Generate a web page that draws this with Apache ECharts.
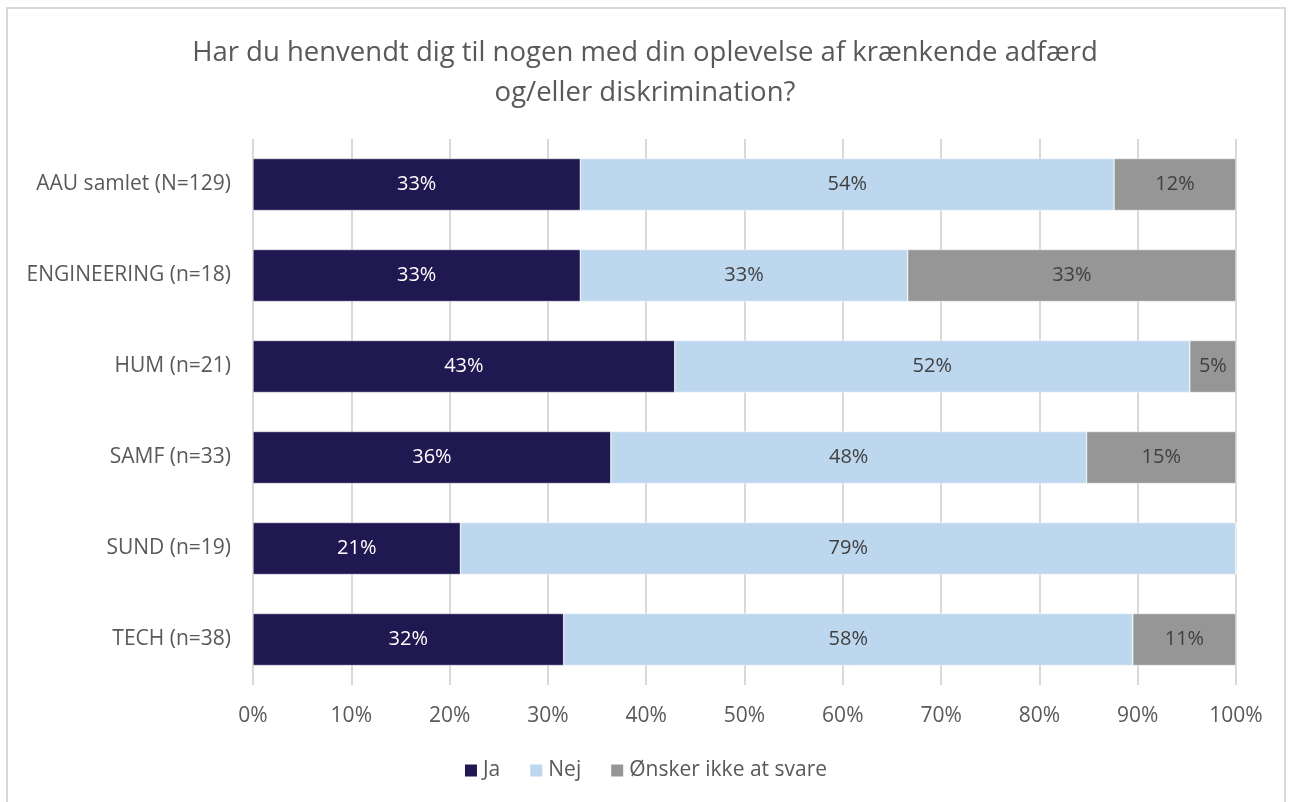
<!DOCTYPE html>
<html>
<head>
<meta charset="utf-8">
<script src="https://cdn.jsdelivr.net/npm/echarts@6/dist/echarts.min.js"></script>
<style>
  html, body { margin: 0; padding: 0; background: #fff; }
  #frame { position: absolute; left: 6px; top: 7px; width: 1280px; height: 800px; border: 2px solid #d9d9d9; box-sizing: border-box; }
  #main { position: absolute; left: 0; top: 0; width: 1290px; height: 802px; }
</style>
</head>
<body>
<div id="frame"></div>
<div id="main"></div>
<script>
// categories, top to bottom as in the picture
const categories = ["AAU samlet (N=129)", "ENGINEERING (n=18)", "HUM (n=21)", "SAMF (n=33)", "SUND (n=19)", "TECH (n=38)"];
// shares in percent
const ja = [33.3, 33.3, 42.9, 36.4, 21.1, 31.6];
const nej = [54.3, 33.3, 52.4, 48.4, 78.9, 57.9];
const oensker = [12.4, 33.4, 4.7, 15.2, 0, 10.5];
const seriesNames = ["Ja", "Nej", "Ønsker ikke at svare"];
const colors = ["#201851", "#bdd7ee", "#969696"];
const labelColors = ["#ffffff", "#404040", "#404040"];

const font = "'Open Sans', 'Noto Sans', sans-serif";
const chart = echarts.init(document.getElementById("main"));

function makeSeries(name, data, i) {
  return {
    name: name,
    type: "bar",
    stack: "total",
    barWidth: 52,
    data: data,
    itemStyle: { color: colors[i], borderColor: "#ffffff", borderWidth: 0.5 },
    label: {
      show: true,
      position: "inside",
      color: labelColors[i],
      fontSize: 20,
      fontFamily: font,
      formatter: p => (p.value > 0 ? Math.round(p.value) + "%" : "")
    }
  };
}

chart.setOption({
  animation: false,
  title: {
    text: "Har du henvendt dig til nogen med din oplevelse af krænkende adfærd\nog/eller diskrimination?",
    left: "center",
    top: 28,
    textStyle: { color: "#595959", fontSize: 27.5, fontWeight: "normal", fontFamily: font, lineHeight: 40 }
  },
  legend: {
    bottom: 16,
    left: "center",
    itemWidth: 14,
    itemHeight: 14,
    itemGap: 28,
    icon: "rect",
    textStyle: { color: "#595959", fontSize: 21, fontFamily: font },
    data: seriesNames
  },
  grid: { left: 253, right: 54, top: 139, bottom: 117 },
  xAxis: {
    type: "value",
    min: 0,
    max: 100,
    interval: 10,
    axisLine: { show: false },
    axisTick: { show: false },
    splitLine: { lineStyle: { color: "#d9d9d9", width: 2 } },
    axisLabel: { color: "#595959", fontSize: 21, fontFamily: font, margin: 21, formatter: "{value}%" }
  },
  yAxis: {
    type: "category",
    inverse: true,
    data: categories,
    axisLine: { show: false },
    axisTick: { show: false },
    axisLabel: { color: "#595959", fontSize: 21, fontFamily: font, margin: 22 }
  },
  series: [
    makeSeries(seriesNames[0], ja, 0),
    makeSeries(seriesNames[1], nej, 1),
    makeSeries(seriesNames[2], oensker, 2)
  ]
});
</script>
</body>
</html>
